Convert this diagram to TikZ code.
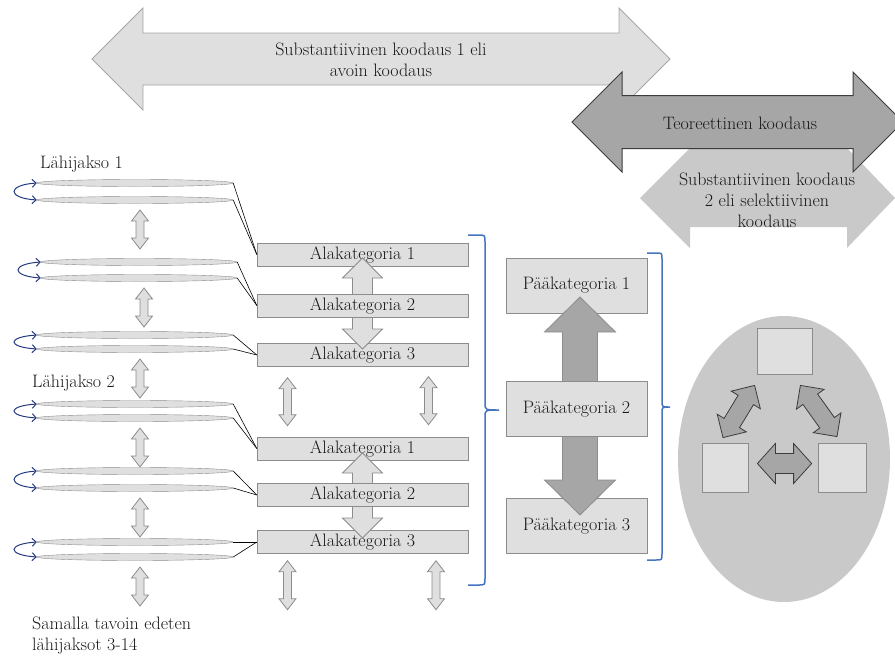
\documentclass[tikz,border=0pt]{standalone}
\usepackage{tikz}
\usetikzlibrary{calc,shapes.geometric,arrows.meta}

\definecolor{boxgray}{RGB}{223,223,223}
\definecolor{edgegray}{RGB}{140,140,140}
\definecolor{midgray}{RGB}{166,166,166}
\definecolor{circgray}{RGB}{201,201,201}
\definecolor{darkedge}{RGB}{60,60,60}
\definecolor{curlblue}{RGB}{36,58,128}
\definecolor{braceblue}{RGB}{70,116,190}

% block arrow with two heads: [style]{from}{to}{shaft half}{head half}{head length}
\newcommand{\blockarrow}[6][]{%
  \draw[#1] let \p1=(#2), \p2=(#3), \p3=($(\p1)!#6pt!(\p2)$), \p4=($(\p2)!#6pt!(\p1)$) in
    (\p1) -- ($(\p3)!#5pt!90:(\p2)$) -- ($(\p3)!#4pt!90:(\p2)$) -- ($(\p4)!#4pt!-90:(\p1)$)
    -- ($(\p4)!#5pt!-90:(\p1)$) -- (\p2) -- ($(\p4)!#5pt!90:(\p1)$) -- ($(\p4)!#4pt!90:(\p1)$)
    -- ($(\p3)!#4pt!-90:(\p2)$) -- ($(\p3)!#5pt!-90:(\p2)$) -- cycle;}

\begin{document}
\begin{tikzpicture}
[x=1pt,y=-1pt,>={Straight Barb[length=4pt,width=8pt]},
 every node/.style={font=\fontsize{18}{21}\selectfont,text=black!90},
 sub box/.style={draw=edgegray,fill=boxgray,minimum width=211pt,minimum height=23pt,inner sep=0pt},
 main box/.style={draw=edgegray,fill=boxgray,minimum width=141pt,minimum height=55pt},
 lens/.style={ellipse,draw=edgegray,fill=boxgray,minimum width=196pt,minimum height=7pt,inner sep=0pt},
 sq/.style={draw=edgegray,fill=boxgray,line width=0.8pt},
 tie/.style={black,line width=0.6pt},
 curl/.style={<->,curlblue,line width=1pt},
 small arrow/.style={fill=boxgray,draw=edgegray,line width=0.8pt},
 big arrow/.style={fill=midgray,draw=edgegray,line width=0.8pt},
 cyc arrow/.style={fill=midgray,draw=darkedge,line width=0.8pt},
 brace/.style={braceblue,line width=1.5pt}]

\useasboundingbox (0,0) rectangle (895,657);
\clip (0,0) rectangle (895,657);

% coding phases
\coordinate (sk1w) at (92,59);
\coordinate (sk1e) at (670,59);
\blockarrow[fill=boxgray,draw=midgray,line width=0.8pt]{sk1w}{sk1e}{26}{51}{51}
\node[align=center] (sk1) at (381,60) {Substantiivinen koodaus 1 eli\\avoin koodaus};

\fill[circgray] (640,198) -- (690,148) -- (847,148) -- (895,198) -- (847,248)
  -- (847,227) -- (690,227) -- (690,248) -- cycle;

\coordinate (tkw) at (572,122);
\coordinate (tke) at (903,122);
\blockarrow[fill=midgray,draw=darkedge,line width=1pt]{tkw}{tke}{26.5}{50}{50}
\node (tk) at (740,123) {Teoreettinen koodaus};
\node[align=center] (sk2) at (767,200) {Substantiivinen koodaus\\2 eli selektiivinen\\koodaus};

% subcategories
\node[sub box] (a1) at (362.5,254.5) {Alakategoria 1};
\node[sub box] (a3) at (362.5,355) {Alakategoria 3};
\blockarrow[small arrow]{$(a1.center)+(0,3.5)$}{$(a3.center)+(0,-6)$}{10}{20}{20}
\node[sub box] (a2) at (362.5,305.5) {Alakategoria 2};

\node[sub box] (b1) at (362.5,448.5) {Alakategoria 1};
\node[sub box] (b3) at (362.5,542) {Alakategoria 3};
\blockarrow[small arrow]{$(b1.center)+(0,4.5)$}{$(b3.center)+(0,-4)$}{10}{20}{20}
\node[sub box] (b2) at (362.5,495) {Alakategoria 2};

\blockarrow[small arrow]{$(a3.south)+(-75,11)$}{$(a3.south)+(-75,59)$}{4}{8.5}{11}
\blockarrow[small arrow]{$(a3.south)+(66,10)$}{$(a3.south)+(66,58)$}{4}{8.5}{11}
\blockarrow[small arrow]{$(b3.south)+(-75,7)$}{$(b3.south)+(-75,56)$}{4}{8.5}{11}
\blockarrow[small arrow]{$(b3.south)+(73.5,7)$}{$(b3.south)+(73.5,56)$}{4}{8.5}{11}

% periods
\foreach \i/\ya/\yb/\cx/\t in {1/183/200/135/a1, 2/262/278/139/a2, 3/335/349/135/a3,
    4/404/418/135/b1, 5/471/488/135/b2, 6/542/557/135/b3}{
  \node[lens] (e\i-a) at (\cx,\ya) {};
  \node[lens] (e\i-b) at (\cx,\yb) {};
  \draw[curl] (e\i-a.west) .. controls +(-30,2) and +(-30,-2) .. (e\i-b.west);
  \draw[tie] (e\i-a.east) -- (\t.west);
  \draw[tie] (e\i-b.east) -- (\t.west);
  \blockarrow[small arrow]{$(e\i-b.center)+(5,10)$}{$(e\i-b.center)+(5,49)$}{4}{8.5}{11}
}

\node[anchor=base west,inner sep=0pt] (lj1) at (40,168) {Lähijakso 1};
\node[anchor=base west,inner sep=0pt] (lj2) at (32,387) {Lähijakso 2};
\node[anchor=north west,inner sep=0pt,align=left] (rest) at (32,617) {Samalla tavoin edeten\\lähijaksot 3-14};

% main categories
\draw[brace] (468,235) -- (478,235) .. controls (485,235) .. (485,242) -- (485,403)
  .. controls (485,410) .. (499,410) .. controls (485,410) .. (485,417) -- (485,578)
  .. controls (485,585) .. (478,585) -- (468,585);

\node[main box] (p1) at (576.5,285.5) {Pääkategoria 1};
\node[main box] (p3) at (576.5,526) {Pääkategoria 3};
\blockarrow[big arrow]{$(p1.center)+(3.5,11.5)$}{$(p3.center)+(3.5,-11)$}{17.5}{35.5}{35}
\node[main box] (p2) at (576.5,409) {Pääkategoria 2};

\draw[brace] (647,253) -- (656,253) .. controls (662,253) .. (662,259) -- (662,401)
  .. controls (662,407) .. (670,407) .. controls (662,407) .. (662,413) -- (662,554)
  .. controls (662,560) .. (656,560) -- (647,560);

% theory
\node[ellipse,fill=circgray,minimum width=212pt,minimum height=286pt] (circ) at (784,459) {};
\node[sq,minimum width=55pt,minimum height=46pt] (s1) at (784.5,351) {};
\node[sq,minimum width=46pt,minimum height=49pt] (s2) at (725,467.5) {};
\node[sq,minimum width=48pt,minimum height=49pt] (s3) at (842,467.5) {};
\blockarrow[cyc arrow]{$(s2.east)+(9,-4)$}{$(s3.west)+(-6,-4)$}{10}{20}{18}
\blockarrow[cyc arrow]{$(s2.north)+(-2,-5)$}{$(s1.south west)+(-2,11)$}{9}{17}{17}
\blockarrow[cyc arrow]{$(s1.south east)+(-12,11)$}{$(s3.north)+(-5,-6)$}{9}{17}{17}
\end{tikzpicture}
\end{document}
